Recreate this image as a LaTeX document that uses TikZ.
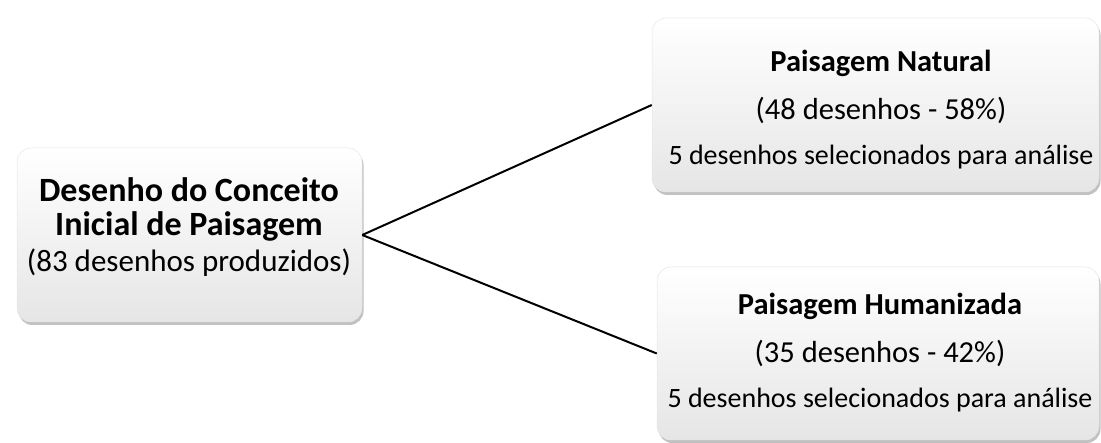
\documentclass[tikz,border=0pt]{standalone}
\usepackage{fontspec}
\setmainfont{Carlito}
\usetikzlibrary{shadows}
\begin{document}
\begin{tikzpicture}[x=1pt,y=-1pt,
  box/.style={rounded corners=14pt, top color=white, bottom color=black!10,
    draw=black!10, line width=0.5pt, inner sep=0pt,
    drop shadow={shadow xshift=1.5pt, shadow yshift=-3pt, opacity=.35, fill=black!70}},
  ttl/.style={anchor=base, font=\fontsize{30.5}{36}\selectfont\bfseries},
  sub/.style={anchor=base, font=\fontsize{30.5}{36}\selectfont},
  sel/.style={anchor=base, font=\fontsize{28}{34}\selectfont},
  link/.style={line width=2pt, black}]
\useasboundingbox (0,0) rectangle (1101,443);
% boxes
\node[box, minimum width=345pt, minimum height=174pt] (L) at (189.5,235) {};
\node[box, minimum width=447pt, minimum height=174pt] (T) at (875.5,105) {};
\node[box, minimum width=442pt, minimum height=173pt] (B) at (878,353.5) {};
% left texts
\node[anchor=base, font=\fontsize{34}{40}\selectfont\bfseries] (l1) at (189,202) {Desenho do Conceito};
\node[anchor=base, font=\fontsize{34}{40}\selectfont\bfseries] (l2) at (189,236) {Inicial de Paisagem};
\node[anchor=base, font=\fontsize{31}{36}\selectfont] (l3) at (189,272) {(83 desenhos produzidos)};
% top right texts
\node[ttl] (t1) at (881,72) {Paisagem Natural};
\node[sub] (t2) at (881,120) {(48 desenhos - 58\%)};
\node[sel] (t3) at (881,165) {5 desenhos selecionados para análise};
% bottom right texts
\node[ttl] (b1) at (880,315) {Paisagem Humanizada};
\node[sub] (b2) at (880,363) {(35 desenhos - 42\%)};
\node[sel] (b3) at (880,408) {5 desenhos selecionados para análise};
% connectors
\draw[link] (L.east) -- (T.west);
\draw[link] (L.east) -- (B.west);
\end{tikzpicture}
\end{document}
